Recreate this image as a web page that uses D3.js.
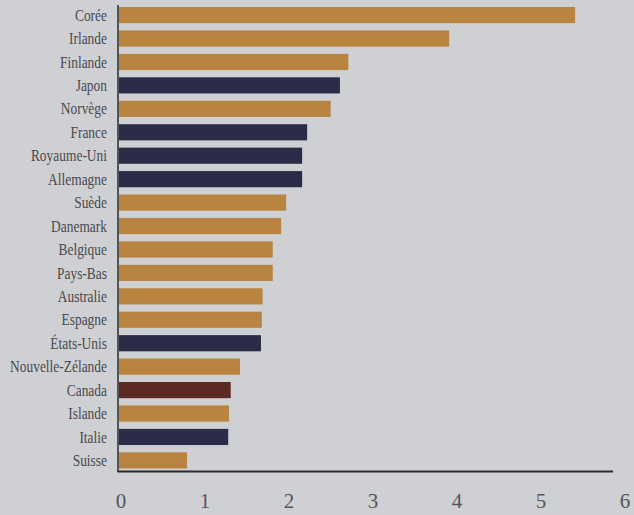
<!DOCTYPE html>
<html>
<head>
<meta charset="utf-8">
<script src="https://cdn.jsdelivr.net/npm/d3@7"></script>
<style>
  body { margin: 0; background: #cfd0d4; }
  svg { display: block; }
  text { font-family: "Liberation Serif", "DejaVu Serif", "Times New Roman", serif; }
</style>
</head>
<body>
<div id="chart"></div>
<script>
var countries = ["Corée", "Irlande", "Finlande", "Japon", "Norvège", "France", "Royaume-Uni", "Allemagne",
  "Suède", "Danemark", "Belgique", "Pays-Bas", "Australie", "Espagne", "États-Unis", "Nouvelle-Zélande",
  "Canada", "Islande", "Italie", "Suisse"];
var values = [5.43, 3.93, 2.73, 2.63, 2.52, 2.24, 2.18, 2.18, 1.99, 1.93, 1.83, 1.83, 1.71, 1.70, 1.69, 1.44,
  1.33, 1.31, 1.30, 0.81];
var groups = ["o", "o", "o", "n", "o", "n", "n", "n", "o", "o", "o", "o", "o", "o", "n", "o",
  "c", "o", "n", "o"];
var ticks = [0, 1, 2, 3, 4, 5, 6];

var svgWidth = 634;
var svgHeight = 515;

var colors = { o: "#b8843f", n: "#2a2c48", c: "#5b2a24" };

var data = countries.map(function(c, i) {
  return { country: c, value: values[i], group: groups[i] };
});

var svg = d3.select("#chart")
  .append("svg")
  .attr("width", svgWidth)
  .attr("height", svgHeight);

svg.append("rect")
  .attr("width", svgWidth)
  .attr("height", svgHeight)
  .attr("fill", "#cfd0d4");

var xScale = d3.scaleLinear()
  .domain([0, 6])
  .range([119, 623]);

var yScale = d3.scaleBand()
  .domain(countries)
  .range([3.5, 472])
  .paddingInner(0.31)
  .paddingOuter(0.15);

svg.selectAll("rect.bar")
  .data(data)
  .enter()
  .append("rect")
  .attr("class", "bar")
  .attr("x", xScale(0))
  .attr("y", d => yScale(d.country))
  .attr("width", d => xScale(d.value) - xScale(0))
  .attr("height", yScale.bandwidth())
  .attr("fill", d => colors[d.group]);

// country labels, condensed
svg.selectAll("text.country")
  .data(data)
  .enter()
  .append("text")
  .attr("class", "country")
  .attr("transform", d => `translate(107, ${yScale(d.country) + yScale.bandwidth() / 2}) scale(0.84, 1)`)
  .attr("dy", "0.35em")
  .attr("text-anchor", "end")
  .attr("font-size", 16)
  .attr("fill", "#4a4a4e")
  .text(d => d.country);

// axes lines
svg.append("line")
  .attr("x1", xScale(0) - 1).attr("x2", xScale(0) - 1)
  .attr("y1", 5).attr("y2", 472)
  .attr("stroke", "#2b2b2e")
  .attr("stroke-width", 1.5);

svg.append("line")
  .attr("x1", xScale(0) - 1.5).attr("x2", 613)
  .attr("y1", 471.5).attr("y2", 471.5)
  .attr("stroke", "#2b2b2e")
  .attr("stroke-width", 2);

svg.selectAll("text.tick")
  .data(ticks)
  .enter()
  .append("text")
  .attr("class", "tick")
  .attr("x", d => xScale(d) + 2)
  .attr("y", 508)
  .attr("text-anchor", "middle")
  .attr("font-size", 21)
  .attr("fill", "#55555a")
  .text(d => d);
</script>
</body>
</html>
